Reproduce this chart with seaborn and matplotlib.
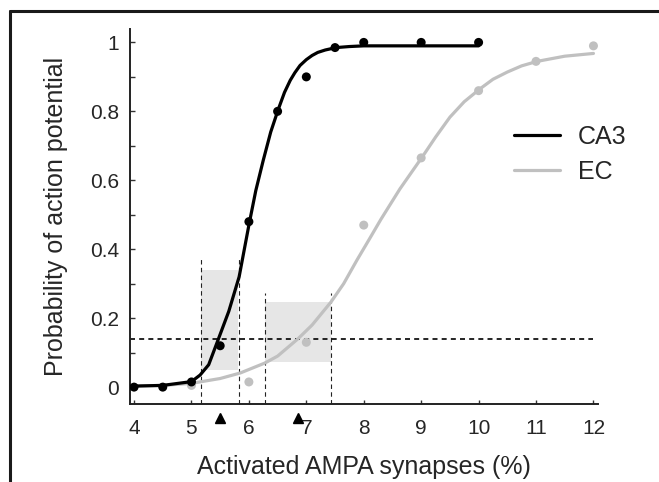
import seaborn as sns
import matplotlib.pyplot as plt
from matplotlib.lines import Line2D
from matplotlib.ticker import MultipleLocator

# measured points
ca3_x = [4, 4.5, 5, 5.5, 6, 6.5, 7, 7.5, 8, 9, 10]
ca3_y = [0.0, 0.0, 0.015, 0.12, 0.48, 0.80, 0.90, 0.985, 1.0, 1.0, 1.0]
ec_x = [5, 6, 7, 8, 9, 10, 11, 12]
ec_y = [0.005, 0.015, 0.13, 0.47, 0.665, 0.86, 0.945, 0.99]

# fitted curves
ca3_fit_x = [4.0, 4.5, 5.0, 5.15, 5.3, 5.47, 5.65, 5.83, 6.0, 6.12, 6.25, 6.38,
             6.51, 6.62, 6.72, 6.8, 6.89, 7.0, 7.1, 7.2, 7.33, 7.52, 7.75, 8.0, 9.0, 10.0]
ca3_fit_y = [0.003, 0.005, 0.016, 0.035, 0.065, 0.14, 0.22, 0.32, 0.47, 0.57, 0.658, 0.74,
             0.805, 0.855, 0.89, 0.912, 0.933, 0.95, 0.962, 0.971, 0.978, 0.985, 0.988, 0.99, 0.99, 0.99]
ec_fit_x = [4.0, 4.5, 5.0, 5.5, 5.85, 6.28, 6.5, 6.86, 7.1, 7.43, 7.65, 7.88, 8.1, 8.3,
            8.63, 9.02, 9.25, 9.5, 9.75, 10.03, 10.25, 10.5, 10.75, 11.02, 11.5, 12.0]
ec_fit_y = [0.003, 0.005, 0.011, 0.025, 0.041, 0.07, 0.09, 0.141, 0.18, 0.247, 0.30, 0.368, 0.43, 0.487,
            0.575, 0.668, 0.725, 0.783, 0.828, 0.866, 0.893, 0.914, 0.932, 0.945, 0.96, 0.968]

# threshold line, ranges and markers
threshold = 0.14
range_x = [5.17, 5.83, 6.28, 7.43]
range_top = [0.374, 0.374, 0.272, 0.272]
ca3_box_x = [5.17, 5.81]
ca3_box_y = [0.049, 0.339]
ec_box_x = [6.28, 7.43]
ec_box_y = [0.073, 0.247]
arrow_x = [5.5, 6.85]

sns.set_style("ticks")
plt.rcParams['font.family'] = ['Liberation Sans', 'DejaVu Sans']

fig = plt.figure(figsize=(6.59, 4.82), dpi=100)
ax = fig.add_axes([0.1973, 0.1618, 0.7102, 0.7774])

ymin = -0.049
ax.fill_between(ca3_box_x, ca3_box_y[0], ca3_box_y[1], color='#e6e6e6', lw=0, zorder=0)
ax.fill_between(ec_box_x, ec_box_y[0], ec_box_y[1], color='#e6e6e6', lw=0, zorder=0)
ax.vlines(range_x, ymin, range_top, colors='#222222', lw=0.8, linestyles=(0, (4, 3)), zorder=1)
ax.hlines(threshold, 3.93, 12, colors='black', lw=1.2, linestyles=(0, (3, 2.5)), zorder=1)

sns.lineplot(x=ec_fit_x, y=ec_fit_y, color='#c0c0c0', lw=2.3, ax=ax, zorder=2)
sns.scatterplot(x=ec_x, y=ec_y, color='#c0c0c0', s=42, edgecolor='none', ax=ax, zorder=3)
sns.lineplot(x=ca3_fit_x, y=ca3_fit_y, color='black', lw=2.3, ax=ax, zorder=4)
sns.scatterplot(x=ca3_x, y=ca3_y, color='black', s=42, edgecolor='none', ax=ax, zorder=5)

ax.plot(arrow_x, [-0.09] * len(arrow_x), '^', color='black', ms=7, clip_on=False, zorder=6)

ax.set_xlim(3.93, 12.08)
ax.set_ylim(ymin, 1.038)
ax.set_xticks(range(4, 13))
ax.set_yticks([0, 0.2, 0.4, 0.6, 0.8, 1])
ax.set_yticklabels(['0', '0.2', '0.4', '0.6', '0.8', '1'])
ax.yaxis.set_minor_locator(MultipleLocator(0.1))
ax.tick_params(axis='both', which='both', direction='in', width=1, color='#333333')
ax.tick_params(axis='y', which='both', length=3.6, pad=8)
ax.tick_params(axis='x', length=3, pad=11)
for lab in ax.get_xticklabels() + ax.get_yticklabels():
    lab.set_fontsize(15)
sns.despine(ax=ax)
for s in ['left', 'bottom']:
    ax.spines[s].set_linewidth(1.4)
    ax.spines[s].set_color('#222222')

ax.set_xlabel('Activated AMPA synapses (%)', fontsize=18, labelpad=12)
ax.set_ylabel('Probability of action potential', fontsize=18, labelpad=16)

handles = [Line2D([], [], color='black', lw=2.3), Line2D([], [], color='#c0c0c0', lw=2.3)]
ax.legend(handles, ['CA3', 'EC'], loc='upper left', bbox_to_anchor=(0.82, 0.745),
          frameon=False, fontsize=18, handlelength=1.85, handletextpad=0.7,
          labelspacing=0.45, borderpad=0, borderaxespad=0)

# outer frame (cropped on right and bottom)
fig.add_artist(Line2D([9.5 / 659, 9.5 / 659], [0, 1 - 10.5 / 482], color='#1a1a1a', lw=2.2))
fig.add_artist(Line2D([9.5 / 659, 1], [1 - 10.5 / 482, 1 - 10.5 / 482], color='#1a1a1a', lw=2.2))

fig.savefig('out.png', dpi=100)
